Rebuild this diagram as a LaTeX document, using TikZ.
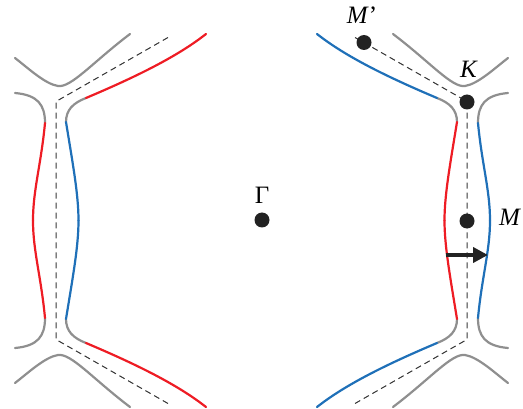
\documentclass[tikz,border=0pt]{standalone}
\usepackage{fontspec}
\setmainfont{Liberation Serif}
\usetikzlibrary{arrows.meta}
\definecolor{bandred}{HTML}{EE1C24}
\definecolor{bandblue}{HTML}{1F70B8}
\definecolor{bandgray}{HTML}{8F8F8F}
\definecolor{dotblack}{HTML}{222222}

\begin{document}
\begin{tikzpicture}[x=1pt, y=-1pt,
  band/.style={line width=2.2pt, line cap=round},
  zone/.style={draw=dotblack!90, line width=1pt, dash pattern=on 6pt off 4pt},
  kpoint/.style={circle, fill=dotblack, inner sep=0pt, minimum size=15pt},
  klabel/.style={inner sep=0pt, font=\fontsize{25}{28}\selectfont},
  arrowshift/.style={-{Triangle[length=15pt,width=15pt]}, line width=4pt, draw=dotblack}
]
  \useasboundingbox (0,0) rectangle (523,409);

  % one quarter, mirrored to the other three
  \foreach \sx/\cin/\cout in {1/bandred/bandblue, -1/bandblue/bandred}
  \foreach \sy in {1,-1} {
    \begin{scope}[shift={(261.5,220.5)}, xscale=\sx, yscale=\sy]
      \draw[zone] (93.5,-183) -- (205.5,-119) -- (205.5,0);
      \draw[band, bandgray] (131.5,-186.5) .. controls (168.5,-158.5) and (190.5,-132.5) .. (203.5,-134.5)
        .. controls (216.5,-136.5) and (233.5,-152.5) .. (246.5,-162.5);
      \draw[band, bandgray] (175.5,-122.5) .. controls (188.5,-117.5) and (195.5,-110.5) .. (195.5,-98.5);
      \draw[band, bandgray] (246.5,-127.5) .. controls (223.5,-125.5) and (216.5,-115.5) .. (216.5,-97.5);
      \draw[band, \cout] (55.5,-186.5) .. controls (83.5,-164.5) and (123.5,-144.5) .. (175.5,-122.5);
      \draw[band, \cin] (195.5,-98.5) .. controls (188.5,-55.5) and (183,-25.5) .. (183,0);
      \draw[band, \cout] (216.5,-97.5) .. controls (220.5,-55.5) and (228.5,-30.5) .. (228.5,0);
    \end{scope}
  }

  \node[kpoint] (Gamma) at (262,220) {};
  \node[kpoint] (Mp) at (364,42.5) {};
  \node[kpoint] (K) at (467,102) {};
  \node[kpoint] (M) at (467,221) {};
  \node[klabel] (GammaLabel) at (262,195) {Γ};
  \node[klabel] (MpLabel) at (362,15) {\textit{M}'};
  \node[klabel] (KLabel) at (469,69) {\textit{K}};
  \node[klabel] (MLabel) at (510,217) {\textit{M}};

  \coordinate (redM) at (445.5,255);
  \coordinate (blueM) at (488,255);
  \draw[arrowshift] (redM) -- (blueM);
\end{tikzpicture}
\end{document}
